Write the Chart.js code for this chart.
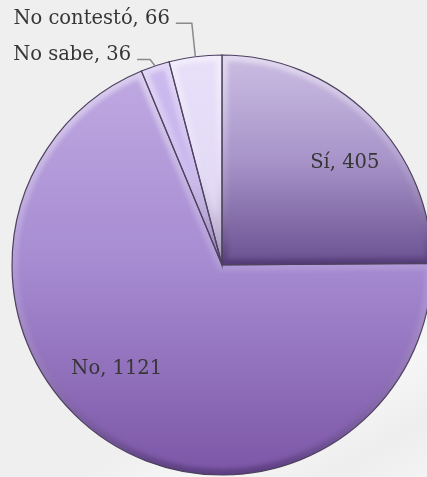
<!DOCTYPE html>
<html>
<head>
<meta charset="utf-8">
<script src="https://cdn.jsdelivr.net/npm/chart.js@4"></script>
<style>
  html, body { margin: 0; padding: 0; overflow: hidden; }
  body {
    width: 427px; height: 477px;
    background: linear-gradient(150deg, #efefef 0%, #efefef 72%, #f6f6f6 82%, #eeeeee 92%, #f3f3f3 100%);
  }
  #wrap { position: absolute; left: 0; top: 0; width: 444px; height: 477px; }
</style>
</head>
<body>
<div id="wrap"><canvas id="pie"></canvas></div>
<script>
// Data
const labels = ["Sí", "No", "No sabe", "No contestó"];
const values = [405, 1121, 36, 66];

// fill gradients per slice: [stop, colour] from top of the pie to the bottom
const fillStops = [
  [[0, "#cbbde3"], [0.25, "#a894c9"], [0.5, "#6a5091"]],
  [[0.04, "#bfa9e2"], [0.5, "#a68bd1"], [1, "#7c56a7"]],
  [[0, "#ccbbef"], [1, "#bca6e6"]],
  [[0, "#e8e0f9"], [1, "#d9cdf3"]]
];

// label placement: inside slices (polar) or outside with a leader line
const placement = [
  { inside: true, dist: 0.76, shift: 5.5 },
  { inside: true, dist: 0.705, shift: 11.8 },
  { inside: false, elbow: [-5, -6.5], leader: 13 },
  { inside: false, elbow: [-3.5, -33.5], leader: 16 }
];

function sliceFill(ctx) {
  const area = ctx.chart.chartArea;
  const stops = fillStops[ctx.dataIndex];
  if (!area) return stops[0][1];
  const g = ctx.chart.ctx.createLinearGradient(0, area.top, 0, area.bottom);
  stops.forEach(s => g.addColorStop(s[0], s[1]));
  return g;
}

function slicePath(c, a) {
  c.beginPath();
  c.moveTo(a.x, a.y);
  c.arc(a.x, a.y, a.outerRadius, a.startAngle, a.endAngle);
  c.closePath();
}

// soft bevel: light along the upper edges, dark along the lower ones
const bevelPlugin = {
  id: "bevel",
  afterDatasetsDraw(chart) {
    const c = chart.ctx;
    const arcs = chart.getDatasetMeta(0).data;
    arcs.forEach(a => {
      let ymin = a.y, ymax = a.y;
      for (let k = 0; k <= 40; k++) {
        const t = a.startAngle + (a.endAngle - a.startAngle) * k / 40;
        const yy = a.y + a.outerRadius * Math.sin(t);
        ymin = Math.min(ymin, yy); ymax = Math.max(ymax, yy);
      }
      const g = c.createLinearGradient(0, ymin, 0, ymax);
      g.addColorStop(0, "rgba(255,255,255,0.45)");
      g.addColorStop(0.5, "rgba(255,255,255,0.12)");
      g.addColorStop(1, "rgba(45,25,75,0.40)");
      c.save();
      slicePath(c, a);
      c.clip();
      c.filter = "blur(2px)";
      c.lineJoin = "round";
      c.lineWidth = 12;
      c.strokeStyle = g;
      c.stroke();
      c.restore();
      c.save();
      slicePath(c, a);
      c.lineWidth = 1.2;
      c.strokeStyle = "#4e4260";
      c.stroke();
      c.restore();
    });
  }
};

const labelPlugin = {
  id: "sliceLabels",
  afterDraw(chart) {
    const c = chart.ctx;
    const arcs = chart.getDatasetMeta(0).data;
    c.save();
    c.font = '19.5px "DejaVu Serif"';
    c.fillStyle = "#363636";
    arcs.forEach((a, i) => {
      const p = placement[i];
      const text = labels[i] + ", " + values[i];
      const mid = (a.startAngle + a.endAngle) / 2;
      if (p.inside) {
        const ang = mid + p.shift * Math.PI / 180;
        const r = a.outerRadius * p.dist;
        c.textAlign = "center";
        c.textBaseline = "middle";
        c.fillText(text, a.x + r * Math.cos(ang), a.y + r * Math.sin(ang));
      } else {
        const ox = a.x + a.outerRadius * Math.cos(mid);
        const oy = a.y + a.outerRadius * Math.sin(mid);
        const ex = ox + p.elbow[0], ey = oy + p.elbow[1];
        c.beginPath();
        c.moveTo(ox, oy);
        c.lineTo(ex, ey);
        c.lineTo(ex - p.leader, ey);
        c.lineWidth = 1.5;
        c.strokeStyle = "#8a8a8a";
        c.stroke();
        c.textAlign = "right";
        c.textBaseline = "alphabetic";
        c.fillText(text, ex - p.leader - 6, ey + 1);
      }
    });
    c.restore();
  }
};

new Chart(document.getElementById("pie"), {
  type: "pie",
  data: {
    labels: labels,
    datasets: [{
      data: values,
      backgroundColor: sliceFill,
      borderWidth: 0,
      hoverOffset: 0
    }]
  },
  options: {
    responsive: true,
    maintainAspectRatio: false,
    animation: false,
    events: [],
    layout: { padding: { left: 12, right: 12, top: 55, bottom: 2 } },
    plugins: {
      legend: { display: false },
      tooltip: { enabled: false }
    }
  },
  plugins: [bevelPlugin, labelPlugin]
});
</script>
</body>
</html>
